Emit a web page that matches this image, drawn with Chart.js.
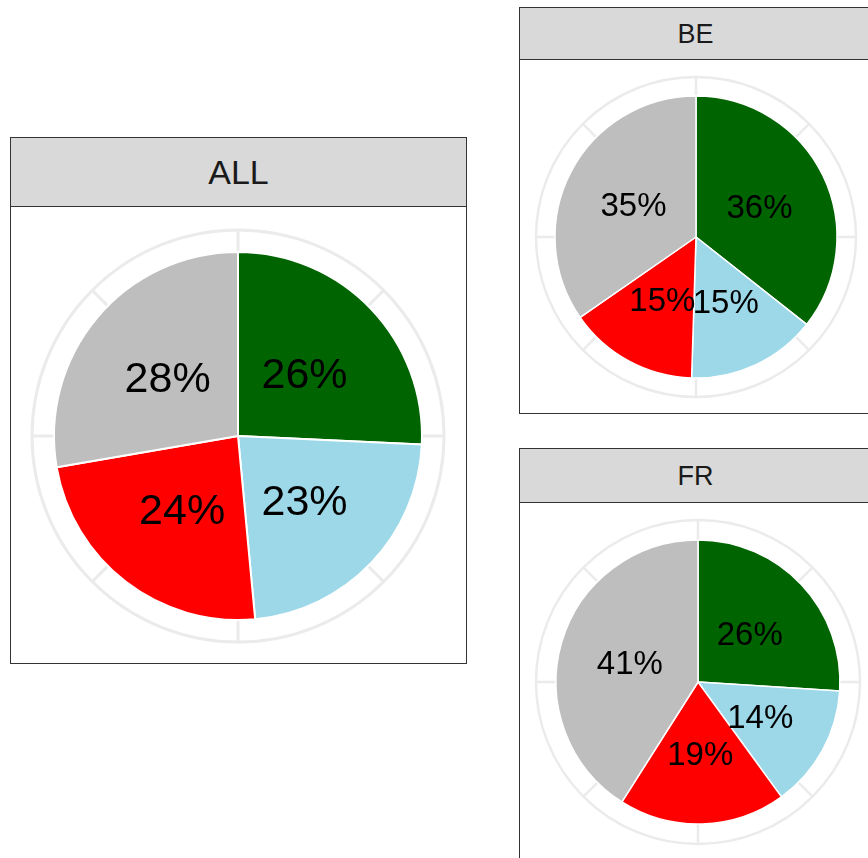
<!DOCTYPE html>
<html lang="en">
<head>
<meta charset="UTF-8">
<title>Pie facets</title>
<script src="https://cdn.jsdelivr.net/npm/chart.js"></script>
<style>
    html, body { margin: 0; padding: 0; background: #fff; }
    body { width: 868px; height: 858px; overflow: hidden; position: relative; font-family: "Liberation Sans", Arial, sans-serif; }
    .panel { position: absolute; box-sizing: border-box; border: 1.5px solid #333; background: #fff; }
    .strip { position: absolute; left: 0; top: 0; right: 0; box-sizing: border-box; background: #d9d9d9;
             border-bottom: 1.5px solid #333; color: #1a1a1a; text-align: center; }
    canvas { position: absolute; }
</style>
</head>
<body>
    <div class="panel" style="left:10px; top:137px; width:457px; height:527px;">
        <div class="strip" id="stripAll" style="height:69px; line-height:69px; font-size:34px;"></div>
    </div>
    <div class="panel" style="left:519px; top:7px; width:353px; height:407px;">
        <div class="strip" id="stripBe" style="height:52px; line-height:52px; font-size:27px;"></div>
    </div>
    <div class="panel" style="left:519px; top:448px; width:353px; height:420px;">
        <div class="strip" id="stripFr" style="height:54px; line-height:54px; font-size:27px;"></div>
    </div>

    <canvas id="allChart" width="456" height="460" style="left:10px; top:206px;"></canvas>
    <canvas id="beChart" width="352" height="356" style="left:520px; top:59px;"></canvas>
    <canvas id="frChart" width="352" height="360" style="left:522px; top:502px;"></canvas>

    <script>
        const segments = ['Group 1', 'Group 2', 'Group 3', 'Group 4'];
        const segmentColors = ['#006400', '#9cd8e8', '#ff0000', '#bebebe'];
        const panelTitles = ['ALL', 'BE', 'FR'];
        const allValues = [26, 23, 24, 28];
        const beValues = [36, 15, 15, 35];
        const frValues = [26, 14, 19, 41];

        document.getElementById('stripAll').textContent = panelTitles[0];
        document.getElementById('stripBe').textContent = panelTitles[1];
        document.getElementById('stripFr').textContent = panelTitles[2];

        // grey polar grid: outer ring plus 8 spokes, drawn under the slices
        const ringGrid = {
            id: 'ringGrid',
            beforeDatasetsDraw(chart, args, opts) {
                const arc = chart.getDatasetMeta(0).data[0];
                if (!arc) return;
                const ctx = chart.ctx;
                const cx = arc.x, cy = arc.y, r = opts.radius;
                ctx.save();
                ctx.strokeStyle = '#ebebeb';
                ctx.lineWidth = opts.lineWidth;
                ctx.beginPath();
                ctx.arc(cx, cy, r, 0, Math.PI * 2);
                ctx.stroke();
                for (let i = 0; i < 8; i++) {
                    const a = i * Math.PI / 4;
                    ctx.beginPath();
                    ctx.moveTo(cx, cy);
                    ctx.lineTo(cx + r * Math.cos(a), cy + r * Math.sin(a));
                    ctx.stroke();
                }
                ctx.restore();
            }
        };

        // percent text at the middle of each slice
        const sliceLabels = {
            id: 'sliceLabels',
            afterDatasetsDraw(chart, args, opts) {
                const ctx = chart.ctx;
                const values = chart.data.datasets[0].data;
                ctx.save();
                ctx.fillStyle = '#000';
                ctx.font = opts.fontSize + 'px "Liberation Sans", Arial, sans-serif';
                ctx.textAlign = 'center';
                ctx.textBaseline = 'middle';
                chart.getDatasetMeta(0).data.forEach((arc, i) => {
                    const p = arc.tooltipPosition();
                    ctx.fillText(values[i] + '%', p.x, p.y + opts.fontSize * 0.08);
                });
                ctx.restore();
            }
        };

        function makePie(id, values, radius, ringRadius, ringWidth, borderWidth, fontSize) {
            const ctx = document.getElementById(id).getContext('2d');
            return new Chart(ctx, {
                type: 'pie',
                data: {
                    labels: segments,
                    datasets: [{
                        data: values,
                        backgroundColor: segmentColors,
                        borderColor: '#ffffff',
                        borderWidth: borderWidth
                    }]
                },
                options: {
                    responsive: false,
                    animation: false,
                    events: [],
                    radius: radius,
                    layout: { padding: 0 },
                    plugins: {
                        legend: { display: false },
                        tooltip: { enabled: false },
                        ringGrid: { radius: ringRadius, lineWidth: ringWidth },
                        sliceLabels: { fontSize: fontSize }
                    }
                },
                plugins: [ringGrid, sliceLabels]
            });
        }

        makePie('allChart', allValues, 184, 206, 3, 2, 43);
        makePie('beChart', beValues, 141, 160, 2.5, 1.5, 33);
        makePie('frChart', frValues, 142, 162, 2.5, 1.5, 33);
    </script>
</body>
</html>
